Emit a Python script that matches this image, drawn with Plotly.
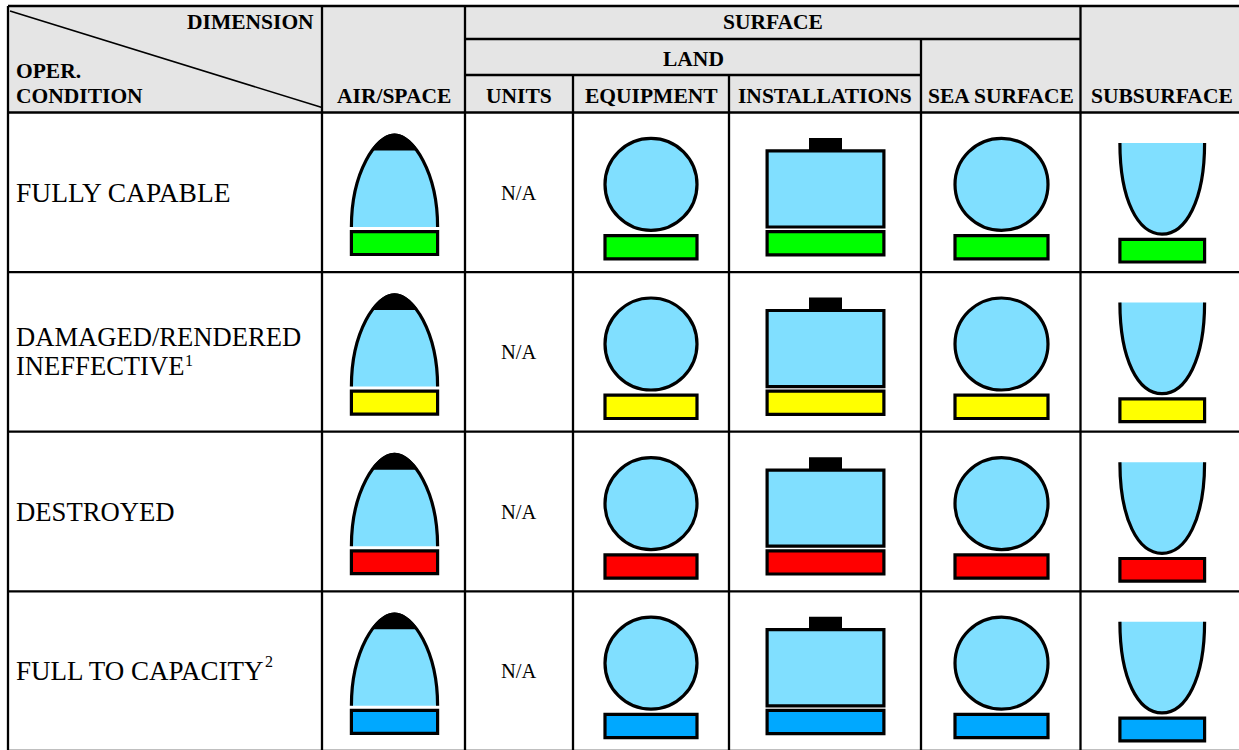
import plotly.graph_objects as go

# ---- table content ----
condition_lines = [["FULLY CAPABLE"], ["DAMAGED/RENDERED", "INEFFECTIVE"], ["DESTROYED"], ["FULL TO CAPACITY"]]
footnote_marks = [None, "1", None, "2"]
status_colors = ["#00ff00", "#ffff00", "#ff0000", "#00a8ff"]
leaf_headers = ["AIR/SPACE", "UNITS", "EQUIPMENT", "INSTALLATIONS", "SEA SURFACE", "SUBSURFACE"]
na_label = "N/A"

# ---- layout geometry ----
W, H = 1239, 750
X = [8, 322, 465, 573, 729, 921, 1080.5]
Y_H = [6, 39, 75, 112.5]
ROW_STEP = 159.6
Y_ROWS = [112.5 + ROW_STEP * i for i in range(5)]
HEAD = "#e5e5e5"
FILL = "#80dfff"
SERIF = "Liberation Serif"
OUT = 3.2
LINE_SIZES = [[27.5], [26.6, 26.6], [26.7], [27]]
shapes, ann = [], []


def rect(x0, y0, x1, y1, fill=None, line=None, w=OUT):
    shapes.append(dict(type="rect", x0=x0, y0=y0, x1=x1, y1=y1, fillcolor=fill or "rgba(0,0,0,0)",
                       line=dict(color=line or "rgba(0,0,0,0)", width=w if line else 0)))


def seg(x0, y0, x1, y1, w=2.3):
    shapes.append(dict(type="line", x0=x0, y0=y0, x1=x1, y1=y1, line=dict(color="#000", width=w)))


def path(d, fill=None, line=None, w=OUT):
    shapes.append(dict(type="path", path=d, fillcolor=fill or "rgba(0,0,0,0)",
                       line=dict(color=line or "rgba(0,0,0,0)", width=w if line else 0)))


def text(x, y, s, size, bold=False, anchor="center"):
    ann.append(dict(x=x, y=y, text=f"<b>{s}</b>" if bold else s, showarrow=False, xanchor=anchor, yanchor="middle",
                    font=dict(family=SERIF, size=size, color="#000"), xref="x", yref="y"))


# header background
rect(X[0], Y_H[0], W, Y_H[3], fill=HEAD)

# symbols
for i, color in enumerate(status_colors):
    d = ROW_STEP * i
    # air/space
    path(f"M351.4,{227+d} C351.4,{172+d} 376,{135.2+d} 394.5,{135.2+d} C413,{135.2+d} 437.6,{172+d} 437.6,{227+d}", fill=FILL, line="#000")
    path(f"M371,{150.5+d} C378,{139+d} 387,{133.6+d} 394.5,{133.6+d} C402,{133.6+d} 411,{139+d} 418,{150.5+d} Z", fill="#000")
    rect(351.4, 231.6 + d, 437.6, 254.5 + d, fill=color, line="#000")
    # equipment / sea surface
    for x0, x1 in ((605, 697), (955, 1048)):
        shapes.append(dict(type="circle", x0=x0, x1=x1, y0=138.4 + d, y1=230.4 + d, fillcolor=FILL,
                           line=dict(color="#000", width=OUT)))
        rect(x0, 235.6 + d, x1, 258.9 + d, fill=color, line="#000")
    # installations
    rect(767.1, 150.9 + d, 883.9, 227 + d, fill=FILL, line="#000")
    rect(809, 138 + d, 842, 150 + d, fill="#000")
    rect(767.1, 231.6 + d, 883.9, 254.8 + d, fill=color, line="#000")
    # subsurface
    path(f"M1119.9,{143+d} C1119.9,{200+d} 1138,{234.1+d} 1162,{234.1+d} C1186,{234.1+d} 1204.6,{200+d} 1204.6,{143+d}", fill=FILL, line="#000")
    rect(1119.9, 239.3 + d, 1204.6, 262 + d, fill=color, line="#000")

# grid
seg(X[0], Y_H[0], W, Y_H[0])
seg(X[2], Y_H[1], X[6], Y_H[1])
seg(X[2], Y_H[2], X[5], Y_H[2])
seg(X[0], Y_H[3], W, Y_H[3])
for y in Y_ROWS[1:]:
    seg(X[0], y, W, y)
seg(X[0], Y_H[0], X[0], H)
seg(X[1], Y_H[0], X[1], H)
seg(X[2], Y_H[0], X[2], H)
seg(X[3], Y_H[2], X[3], H)
seg(X[4], Y_H[2], X[4], H)
seg(X[5], Y_H[1], X[5], H)
seg(X[6], Y_H[0], X[6], H)
seg(10, 11, 322, 107.5, w=1.6)

# header text
text(316, 22, "DIMENSION", 21.5, True, "right")
text(14, 71, "OPER.", 21.5, True, "left")
text(14, 96, "CONDITION", 21.5, True, "left")
for cx, s in zip([394, 519, 651, 825, 1001, 1162], leaf_headers):
    text(cx, 96, s, 21.5, True)
text(773, 22, "SURFACE", 21.5, True)
text(693, 59, "LAND", 21.5, True)

# body text
SUP_POS = {1: (188.5, 8), 3: (269, -10)}
for i, lines in enumerate(condition_lines):
    cy = 192.5 + ROW_STEP * i
    if len(lines) == 1:
        text(14, cy, lines[0], LINE_SIZES[i][0], False, "left")
    else:
        text(14, cy - 15, lines[0], LINE_SIZES[i][0], False, "left")
        text(14, cy + 14, lines[1], LINE_SIZES[i][1], False, "left")
    if footnote_marks[i]:
        sx, dy = SUP_POS[i]
        text(sx, cy + dy, footnote_marks[i], 16)
    text(519, cy, na_label, 20.5)

fig = go.Figure()
fig.update_layout(width=W, height=H, margin=dict(l=0, r=0, t=0, b=0), paper_bgcolor="#fff", plot_bgcolor="#fff",
                  xaxis=dict(range=[0, W], visible=False, fixedrange=True),
                  yaxis=dict(range=[H, 0], visible=False, fixedrange=True),
                  shapes=shapes, annotations=ann, showlegend=False)
fig.write_html("out.html", config=dict(displayModeBar=False),
               post_script="document.body.style.margin='0';document.body.style.overflow='hidden';")
